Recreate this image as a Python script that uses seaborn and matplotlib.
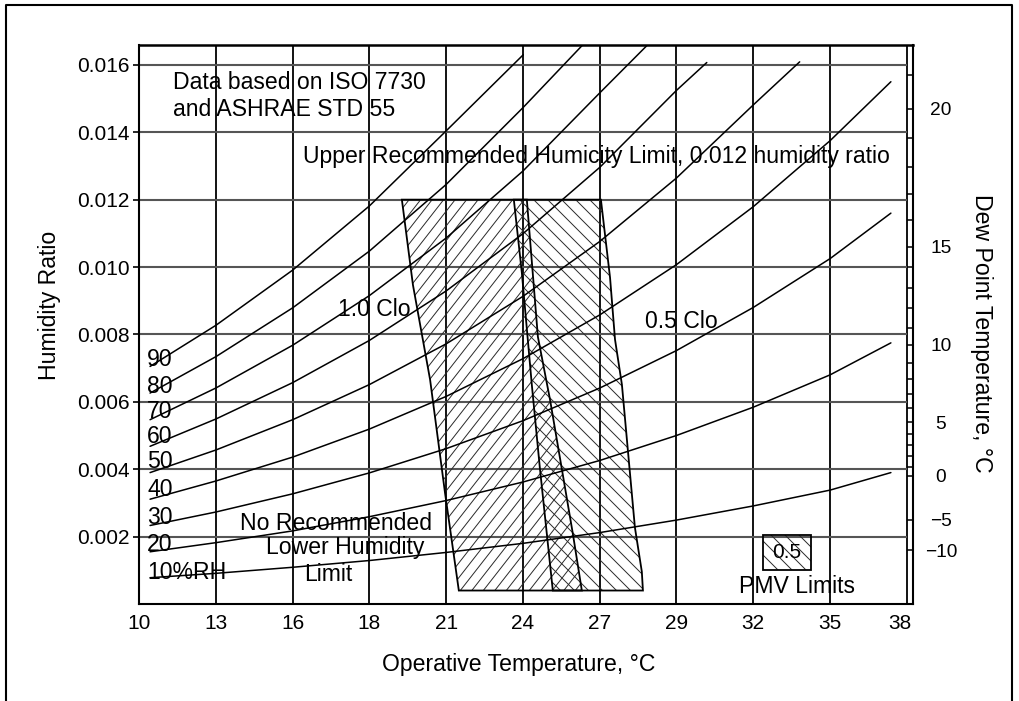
import numpy as np
import pandas as pd
import matplotlib
matplotlib.use("Agg")
import matplotlib.pyplot as plt
import matplotlib.transforms as mtransforms
from matplotlib.patches import Polygon, Rectangle
from matplotlib.collections import LineCollection
from matplotlib.lines import Line2D
import seaborn as sns

sns.set_style("white")
plt.rcParams.update({
    "font.family": ["Liberation Sans", "DejaVu Sans"],
    "axes.edgecolor": "black",
    "text.color": "black",
    "axes.labelcolor": "black",
    "xtick.color": "black",
    "ytick.color": "black",
})

# ---- axis scales ----
# operative temperature grid, one line every 5 °F, labelled in °C
temp_ticks = [10.0, 12.78, 15.56, 18.33, 21.11, 23.89, 26.67, 29.44, 32.22, 35.0, 37.78]
temp_labels = ["10", "13", "16", "18", "21", "24", "27", "29", "32", "35", "38"]
ratio_ticks = [0.002, 0.004, 0.006, 0.008, 0.010, 0.012, 0.014, 0.016]
ratio_labels = ["0.002", "0.004", "0.006", "0.008", "0.010", "0.012", "0.014", "0.016"]
# dew point scale: humidity ratio at saturation for each dew point
dew_ticks = [0.0016, 0.0025, 0.0038, 0.0054, 0.0077, 0.0106, 0.0147]
dew_labels = ["\u221210", "\u22125", "0", "5", "10", "15", "20"]
dew_minor = [0.00407, 0.00438, 0.00471, 0.00505, 0.00582, 0.00624, 0.00668, 0.00716,
             0.00820, 0.00877, 0.00937, 0.01001, 0.01141, 0.01218, 0.01298, 0.01383,
             0.01571]

# ---- relative humidity curves (temperature °C, humidity ratio) ----
rh_low_temps = [10.4, 12.78, 15.56, 18.33, 21.11, 23.89, 26.67, 29.44, 32.22, 35.0, 37.2]
rh10 = [0.00078, 0.00091, 0.00109, 0.00129, 0.00153, 0.00180, 0.00212, 0.00249, 0.00291, 0.00338, 0.00390]
rh20 = [0.00155, 0.00182, 0.00217, 0.00259, 0.00307, 0.00362, 0.00426, 0.00500, 0.00584, 0.00680, 0.00775]
rh30 = [0.00233, 0.00273, 0.00327, 0.00389, 0.00461, 0.00544, 0.00641, 0.00752, 0.00880, 0.01025, 0.01160]
rh40 = [0.00311, 0.00365, 0.00436, 0.00519, 0.00616, 0.00728, 0.00858, 0.01007, 0.01179, 0.01375, 0.01550]
rh50_temps = [10.4, 12.78, 15.56, 18.33, 21.11, 23.89, 26.67, 29.44, 32.22, 33.9]
rh50 = [0.00390, 0.00457, 0.00547, 0.00651, 0.00772, 0.00913, 0.01076, 0.01264, 0.01481, 0.01609]
rh60_temps = [10.4, 12.78, 15.56, 18.33, 21.11, 23.89, 26.67, 29.44, 30.54]
rh60 = [0.00468, 0.00549, 0.00657, 0.00782, 0.00929, 0.01099, 0.01296, 0.01524, 0.01607]
rh70_temps = [10.4, 12.78, 15.56, 18.33, 21.11, 23.89, 26.67, 28.37]
rh70 = [0.00547, 0.00641, 0.00768, 0.00915, 0.01086, 0.01285, 0.01517, 0.01657]
rh80_temps = [10.4, 12.78, 15.56, 18.33, 21.11, 23.89, 26.06]
rh80 = [0.00626, 0.00734, 0.00879, 0.01047, 0.01245, 0.01473, 0.01660]
rh90_temps = [10.4, 12.78, 15.56, 18.33, 21.11, 23.9]
rh90 = [0.00705, 0.00827, 0.00991, 0.01181, 0.01404, 0.01630]

rh_labels = ["90", "80", "70", "60", "50", "40", "30", "20", "10%RH"]
rh_label_ratio = [0.00725, 0.00645, 0.00571, 0.00496, 0.00422, 0.00339, 0.00256, 0.00176, 0.00093]

# ---- comfort zones (edges from top, 0.012, down to the bottom) ----
clo10_left_t = [19.51, 19.91, 20.53, 21.07, 21.57]
clo10_left_w = [0.0120, 0.00947, 0.00666, 0.00330, 0.0004]
clo10_right_t = [24.03, 24.43, 24.87, 25.30, 25.70, 26.02]
clo10_right_w = [0.0120, 0.00793, 0.00606, 0.00399, 0.00206, 0.0004]
clo05_left_t = [23.56, 23.85, 24.21, 24.50, 24.97]
clo05_left_w = [0.0120, 0.00983, 0.00651, 0.00405, 0.0004]
clo05_right_t = [26.71, 27.04, 27.22, 27.47, 27.69, 27.94, 28.19, 28.23]
clo05_right_w = [0.0120, 0.00969, 0.00785, 0.00651, 0.00452, 0.00227, 0.00096, 0.0004]

# ---------------------------------------------------------------------------
W_PX, H_PX = 1019, 701
FS = 16.6
fig = plt.figure(figsize=(W_PX / 100, H_PX / 100), dpi=100)
ax = fig.add_axes([139 / W_PX, (H_PX - 604) / H_PX, 774 / W_PX, 559 / H_PX])
XMAX, YMAX = 38.0, 0.01659
ax.set_xlim(10, XMAX)
ax.set_ylim(0, YMAX)

# grid
ax.vlines(temp_ticks[1:], 0, YMAX, colors="black", lw=1.3, zorder=1)
ax.hlines(ratio_ticks, 10, temp_ticks[-1], colors="#555555", lw=1.5, zorder=1)

# relative humidity curves
frames = []
for name, ts, ws in [("10", rh_low_temps, rh10), ("20", rh_low_temps, rh20),
                     ("30", rh_low_temps, rh30), ("40", rh_low_temps, rh40),
                     ("50", rh50_temps, rh50), ("60", rh60_temps, rh60),
                     ("70", rh70_temps, rh70), ("80", rh80_temps, rh80),
                     ("90", rh90_temps, rh90)]:
    frames.append(pd.DataFrame({"temp": ts, "ratio": ws, "rh": name}))
curves = pd.concat(frames, ignore_index=True)
sns.lineplot(data=curves, x="temp", y="ratio", units="rh", estimator=None,
             sort=False, color="black", linewidth=1.1, legend=False, ax=ax, zorder=3)

# comfort zones with line hatching
ax_w = 774
ax_h = 559


def hatch_patch(patch, angle_deg, spacing, lw=0.7):
    run = ax_h / np.tan(np.radians(angle_deg))
    offs = np.arange(-abs(run) - spacing, ax_w + abs(run) + spacing, spacing)
    segs = [[(c / ax_w, 0.0), ((c + run) / ax_w, 1.0)] for c in offs]
    lc = LineCollection(segs, transform=ax.transAxes, colors="#2a2a2a",
                        linewidths=lw, zorder=2)
    ax.add_collection(lc, autolim=False)
    lc.set_clip_path(patch)


def zone(left_t, left_w, right_t, right_w):
    verts = list(zip(left_t, left_w)) + list(zip(right_t[::-1], right_w[::-1]))
    poly = Polygon(verts, closed=True, fill=False, edgecolor="black", lw=1.3, zorder=4)
    ax.add_patch(poly)
    return poly


p10 = zone(clo10_left_t, clo10_left_w, clo10_right_t, clo10_right_w)
p05 = zone(clo05_left_t, clo05_left_w, clo05_right_t, clo05_right_w)
hatch_patch(p10, 52, 11.5)
hatch_patch(p05, -45, 14.0)

# PMV legend box
leg = Rectangle((32.57, 0.00102), 1.74, 0.00104, fill=False, edgecolor="black", lw=1.3, zorder=4)
ax.add_patch(leg)
hatch_patch(leg, -45, 14.0)
ax.text(33.44, 0.00153, "0.5", fontsize=15, ha="center", va="center", zorder=5)
ax.text(33.80, 0.00052, "PMV Limits", fontsize=FS, ha="center", va="center", zorder=5)

# annotations
txt = dict(fontsize=FS, va="center", zorder=5)
ax.text(11.23, 0.01547, "Data based on ISO 7730", **txt)
ax.text(11.23, 0.01467, "and ASHRAE STD 55", **txt)
ax.text(15.93, 0.01327, "Upper Recommended Humicity Limit, 0.012 humidity ratio", **txt)
ax.text(17.20, 0.00873, "1.0 Clo", **txt)
ax.text(28.30, 0.00838, "0.5 Clo", **txt)
ax.text(17.13, 0.00238, "No Recommended", ha="center", **txt)
ax.text(17.45, 0.00167, "Lower Humidity", ha="center", **txt)
ax.text(16.84, 0.00087, "Limit", ha="center", **txt)
for lab, yv in zip(rh_labels, rh_label_ratio):
    ax.text(10.29, yv, lab, **txt)

# axes, ticks
ax.set_xticks(temp_ticks)
ax.set_xticklabels(temp_labels)
ax.set_yticks(ratio_ticks)
ax.set_yticklabels(ratio_labels)
ax.tick_params(axis="x", direction="out", length=3.5, width=1.2, pad=4, labelsize=15)
ax.tick_params(axis="y", direction="out", length=4.5, width=1.2, pad=2, labelsize=15,
               right=False)
ax.set_xlabel("")
ax.set_ylabel("")
for side, lw in [("left", 1.5), ("bottom", 1.5), ("top", 1.8), ("right", 1.5)]:
    ax.spines[side].set_linewidth(lw)
    ax.spines[side].set_color("black")

# dew point scale on the right
ax2 = ax.twinx()
ax2.set_ylim(0, YMAX)
ax2.set_yticks(dew_ticks)
ax2.set_yticklabels(dew_labels, ha="center")
ax2.set_yticks(dew_minor, minor=True)
ax2.tick_params(axis="y", which="both", direction="in", length=4.3, width=1.1,
                pad=20, labelsize=13.8)
ax2.set_ylabel("")
for s in ax2.spines.values():
    s.set_visible(False)

# shift last temperature label slightly inward
t_last = ax.xaxis.get_major_ticks()[-1].label1
t_last.set_transform(t_last.get_transform() +
                     mtransforms.ScaledTranslation(-7 / 100, 0, fig.dpi_scale_trans))

# axis titles
fig.text(50 / W_PX, 1 - 305 / H_PX, "Humidity Ratio", rotation=90, fontsize=FS,
         ha="center", va="center")
fig.text(519 / W_PX, 1 - 665 / H_PX, "Operative Temperature, \u00b0C", fontsize=FS,
         ha="center", va="center")
fig.text(982 / W_PX, 1 - 333 / H_PX, "Dew Point Temperature, \u00b0C", rotation=-90,
         fontsize=FS, ha="center", va="center")

# page frame
fx0, fx1, fy1 = 6 / W_PX, 1012 / W_PX, 1 - 5 / H_PX
fig.add_artist(Line2D([fx0, fx0, fx1, fx1], [0, fy1, fy1, 0], transform=fig.transFigure,
                      color="black", lw=1.5))

fig.savefig("out.png", dpi=100, facecolor="white")
